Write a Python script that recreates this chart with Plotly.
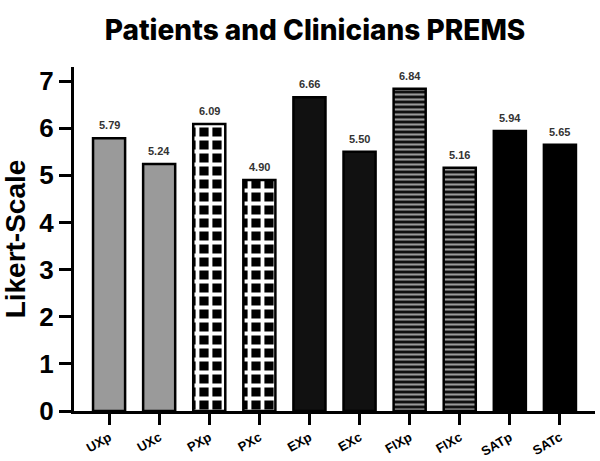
import plotly.graph_objects as go

categories = ["UXp", "UXc", "PXp", "PXc", "EXp", "EXc", "FIXp", "FIXc", "SATp", "SATc"]
values = [5.79, 5.24, 6.09, 4.90, 6.66, 5.50, 6.84, 5.16, 5.94, 5.65]
labels = ["5.79", "5.24", "6.09", "4.90", "6.66", "5.50", "6.84", "5.16", "5.94", "5.65"]
y_ticks = [0, 1, 2, 3, 4, 5, 6, 7]

fills = ["#9a9a9a", "#9a9a9a", "#000000", "#000000", "#111111", "#111111",
         "#111111", "#111111", "#000000", "#000000"]
shapes = ["", "", "+", "+", "", "", "-", "-", "", ""]
fg = ["#9a9a9a", "#9a9a9a", "#ffffff", "#ffffff", "#111111", "#111111",
      "#9a9a9a", "#9a9a9a", "#000000", "#000000"]
sizes = [8, 8, 13, 13, 8, 8, 5, 5, 8, 8]
solid = [0.3, 0.3, 0.5, 0.5, 0.3, 0.3, 0.42, 0.42, 0.3, 0.3]

fig = go.Figure()
for i, c in enumerate(categories):
    pat = dict(shape=shapes[i], fgcolor=fg[i], bgcolor=fills[i], size=sizes[i],
               solidity=solid[i], fillmode="replace")
    fig.add_trace(go.Bar(
        x=[c], y=[values[i]], width=0.64,
        marker=dict(color=fills[i], line=dict(color="#000000", width=2.5), pattern=pat),
        hoverinfo="skip",
    ))

for c, v, t in zip(categories, values, labels):
    fig.add_annotation(x=c, y=v, text=t, showarrow=False, yanchor="bottom", yshift=5,
                       font=dict(family="Liberation Sans", size=11, color="#333333", weight="bold"))

fig.update_layout(
    width=600, height=461,
    margin=dict(l=74, r=5, t=67, b=50),
    paper_bgcolor="white", plot_bgcolor="white",
    showlegend=False,
    barmode="overlay",
    title=dict(text="Patients and Clinicians PREMS", x=0.525, xanchor="center",
               y=0.935, yanchor="middle",
               font=dict(family="Inter", size=28, color="#000000", weight=800)),
    xaxis=dict(
        range=[-0.7, 9.7], showline=True, linecolor="#000000", linewidth=3,
        ticks="outside", ticklen=11, tickwidth=3, tickcolor="#000000",
        tickangle=-30, showgrid=False, zeroline=False, automargin=False,
        categoryorder="array", categoryarray=categories,
        tickfont=dict(family="Liberation Sans", size=13, color="#000000", weight="bold"),
    ),
    yaxis=dict(
        range=[0, 7.3], tickvals=y_ticks, showline=True, linecolor="#000000", linewidth=3,
        ticks="outside", ticklen=12, tickwidth=3, tickcolor="#000000",
        showgrid=False, zeroline=False, automargin=False,
        tickfont=dict(family="Liberation Sans", size=26, color="#000000", weight="bold"),
        title=dict(text="<b>Likert-Scale</b>", standoff=8,
                   font=dict(family="Liberation Sans", size=28, color="#000000")),
    ),
)

fig.write_html("out.html")
